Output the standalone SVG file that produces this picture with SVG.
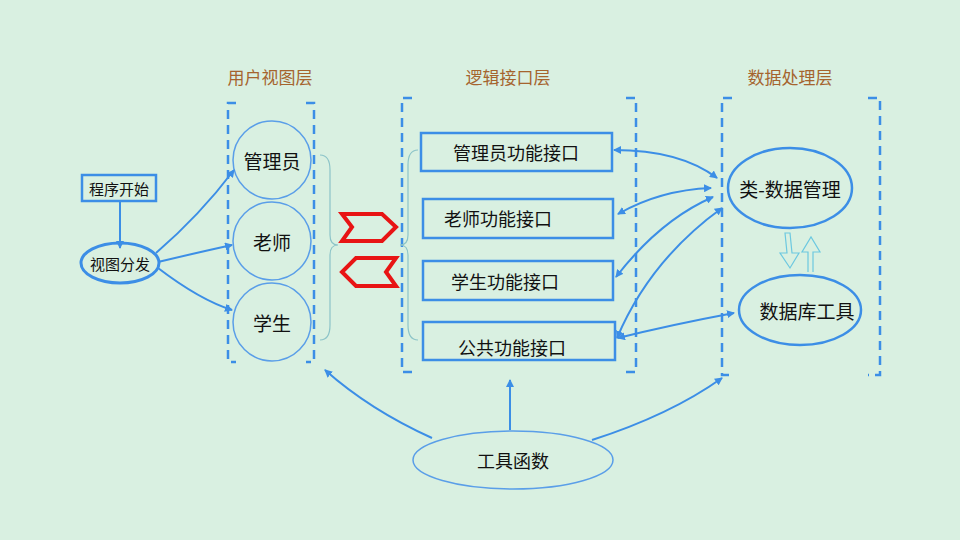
<svg xmlns="http://www.w3.org/2000/svg" width="960" height="540" viewBox="0 0 960 540">
<defs>
<marker id="ah" markerWidth="8" markerHeight="8" refX="7" refY="4" orient="auto" markerUnits="userSpaceOnUse"><path d="M0,0 L8,4 L0,8 Z" fill="#3c8ee6"/></marker>
<marker id="as" markerWidth="8" markerHeight="8" refX="1" refY="4" orient="auto" markerUnits="userSpaceOnUse"><path d="M8,0 L0,4 L8,8 Z" fill="#3c8ee6"/></marker>
</defs>
<style>
text{font-family:"Noto Sans CJK SC","Liberation Sans",sans-serif;fill:#111;text-anchor:middle;dominant-baseline:central}
.t{fill:#a5642e;font-size:17px}
.n{fill:none;stroke:#3c8ee6;stroke-width:2.5}
.c{fill:none;stroke:#5a9ee8;stroke-width:1.5}
.d{fill:none;stroke:#3c8ee6;stroke-width:2.5;stroke-dasharray:9,6}
.l{fill:none;stroke:#3c8ee6;stroke-width:2;marker-end:url(#ah)}
.b{fill:none;stroke:#8cc4c8;stroke-width:1.2}
</style>
<rect width="960" height="540" fill="#d9f0e1"/>
<text class="t" x="270" y="76">用户视图层</text>
<text class="t" x="508" y="76">逻辑接口层</text>
<text class="t" x="790" y="76">数据处理层</text>
<g id="brackets">
<path class="d" d="M236,103 H228 V362 H236 M306,103 H314 V362 H306"/>
<path class="d" d="M412,98 H402 V372 H412 M626,98 H636 V372 H626"/>
<path class="d" d="M732,98 H722 V375 H732 M868,98 H880 V375 H868"/>
</g>
<g id="braces">
<path class="b" d="M320,155 Q330,155 330,170 V235 Q330,245 338,245 Q330,245 330,255 V325 Q330,340 320,340"/>
<path class="b" d="M418,150 Q408,150 408,165 V235 Q408,245 400,245 Q408,245 408,255 V325 Q408,340 418,340"/>
</g>
<g id="start"><rect x="82" y="175" width="74" height="26" fill="none" stroke="#3c8ee6" stroke-width="2.5"/><text x="119" y="188" font-size="15">程序开始</text></g>
<g id="dispatch"><ellipse cx="120" cy="263" rx="39" ry="20" fill="none" stroke="#3c8ee6" stroke-width="3"/><text x="120" y="263" font-size="15">视图分发</text></g>
<g id="admin"><circle cx="272" cy="160" r="39" class="c"/><text x="272" y="160" font-size="19">管理员</text></g>
<g id="teacher"><circle cx="272" cy="241" r="39" class="c"/><text x="272" y="241" font-size="19">老师</text></g>
<g id="student"><circle cx="272" cy="322" r="39" class="c"/><text x="272" y="322" font-size="19">学生</text></g>
<g id="chevrons">
<path d="M342,214 H382 L396,227 L382,241 H342 L352,227 Z" fill="none" stroke="#e81414" stroke-width="4"/>
<path d="M396,258 H356 L342,272 L356,286 H396 L386,272 Z" fill="none" stroke="#e81414" stroke-width="4"/>
</g>
<g id="i1"><rect x="421" y="133" width="191" height="38" class="n"/><text x="516" y="152" font-size="18">管理员功能接口</text></g>
<g id="i2"><rect x="423" y="199" width="190" height="39" class="n"/><text x="498" y="218" font-size="18">老师功能接口</text></g>
<g id="i3"><rect x="423" y="261" width="190" height="39" class="n"/><text x="505" y="281" font-size="18">学生功能接口</text></g>
<g id="i4"><rect x="423" y="322" width="192" height="38" class="n"/><text x="512" y="347" font-size="18">公共功能接口</text></g>
<g id="dm"><ellipse cx="790" cy="188" rx="62" ry="40" class="n"/><text x="790" y="188" font-size="19">类-数据管理</text></g>
<g id="db"><ellipse cx="800" cy="310" rx="61" ry="35" class="n"/><text x="807" y="310" font-size="19">数据库工具</text></g>
<g id="tools"><ellipse cx="513" cy="460" rx="100" ry="29" class="c" stroke-width="2"/><text x="513" y="460" font-size="18">工具函数</text></g>
<g id="connectors">
<path class="l" d="M120,201 V248"/>
<path class="l" d="M156,253 Q200,215 234,170"/>
<path class="l" d="M158,262 Q200,252 232,245"/>
<path class="l" d="M158,268 Q200,300 232,310"/>
<path class="l" d="M614,150 Q680,150 717,178" marker-start="url(#as)"/>
<path class="l" d="M618,214 Q660,190 711,188" marker-start="url(#as)"/>
<path class="l" d="M616,277 Q660,220 713,197" marker-start="url(#as)"/>
<path class="l" d="M617,338 Q650,260 722,208" marker-start="url(#as)"/>
<path class="l" d="M618,338 Q670,325 734,313" marker-start="url(#as)"/>
<path class="l" d="M432,438 Q370,410 325,370"/>
<path class="l" d="M510,430 V380"/>
<path class="l" d="M592,440 Q670,415 722,378"/>
<path d="M785,233 L787,253 L780,253 L790,268 L799,253 L792,253 L790,233 Z" fill="none" stroke="#6cc8e0" stroke-width="1.2"/>
<path d="M808,272 L808,252 L802,252 L811,237 L820,252 L813,252 L813,272" fill="none" stroke="#6cc8e0" stroke-width="1.2"/>
</g>
</svg>
